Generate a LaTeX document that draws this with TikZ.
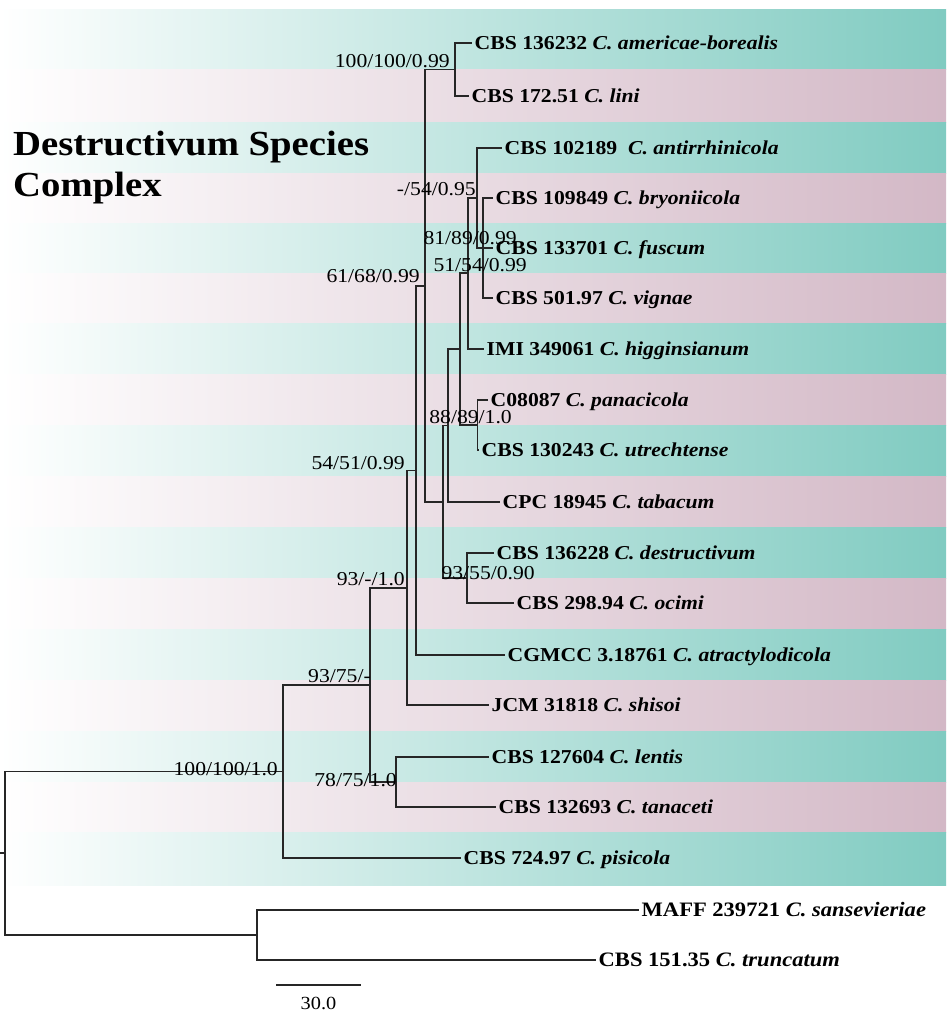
\documentclass[tikz,border=0pt]{standalone}
\usepackage{fontspec}
\setmainfont{Liberation Serif}[FakeStretch=1.1]
\usetikzlibrary{positioning}
\definecolor{bandteal}{RGB}{128,203,193}
\definecolor{bandpink}{RGB}{211,184,198}

\begin{document}
\begin{tikzpicture}[x=1pt, y=-1pt,
  br/.style={line width=1.8pt, draw=black!85},
  tx/.style={anchor=west, inner xsep=2.5pt, inner ysep=0pt, text height=13pt, text depth=0pt, font=\fontsize{19.7}{22}\selectfont\bfseries},
  og/.style={tx, font=\fontsize{20.5}{23}\selectfont\bfseries},
  bs/.style={anchor=base east, inner sep=0pt, font=\fontsize{19.7}{22}\selectfont}]
  \useasboundingbox (0,0) rectangle (946,1012);
  \foreach \a/\b/\c in {9/69.5/bandteal, 69.5/122/bandpink, 122/173/bandteal, 173/223.5/bandpink,
      223.5/273/bandteal, 273/323/bandpink, 323/374/bandteal, 374/425/bandpink, 425/476/bandteal,
      476/527.5/bandpink, 527.5/578/bandteal, 578/629/bandpink, 629/680/bandteal, 680/731/bandpink,
      731/782/bandteal, 782/832.5/bandpink, 832.5/885/bandteal}
    \shade[left color=white, middle color=\c!55!white, right color=\c] (0,\a) rectangle (946,\b);

  \node[anchor=base west, inner sep=0pt, font=\fontsize{35.2}{40}\selectfont\bfseries] (ttl) at (13,155) {Destructivum Species};
  \node[anchor=base west, inner sep=0pt, font=\fontsize{35.2}{40}\selectfont\bfseries] (ttl2) at (13,196) {Complex};

  \node[tx] (t1) at (472,43) {CBS 136232 \textit{C. americae-borealis}};
  \node[tx] (t2) at (469,96) {CBS 172.51 \textit{C. lini}};
  \node[tx] (t3) at (502,148) {CBS 102189 \ \textit{C. antirrhinicola}};
  \node[tx] (t4) at (493,198) {CBS 109849 \textit{C. bryoniicola}};
  \node[tx] (t5) at (493,248) {CBS 133701 \textit{C. fuscum}};
  \node[tx] (t6) at (493,298) {CBS 501.97 \textit{C. vignae}};
  \node[tx] (t7) at (484,349) {IMI 349061 \textit{C. higginsianum}};
  \node[tx] (t8) at (488,400) {C08087 \textit{C. panacicola}};
  \node[tx] (t9) at (479,450) {CBS 130243 \textit{C. utrechtense}};
  \node[tx] (t10) at (500,502) {CPC 18945 \textit{C. tabacum}};
  \node[tx] (t11) at (494,553) {CBS 136228 \textit{C. destructivum}};
  \node[tx] (t12) at (514,603) {CBS 298.94 \textit{C. ocimi}};
  \node[tx] (t13) at (505,655) {CGMCC 3.18761 \textit{C. atractylodicola}};
  \node[tx] (t14) at (489,705) {JCM 31818 \textit{C. shisoi}};
  \node[tx] (t15) at (489,757) {CBS 127604 \textit{C. lentis}};
  \node[tx] (t16) at (496,807) {CBS 132693 \textit{C. tanaceti}};
  \node[tx] (t17) at (461,858) {CBS 724.97 \textit{C. pisicola}};
  \node[og] (t18) at (639,910) {MAFF 239721 \textit{C. sansevieriae}};
  \node[og] (t19) at (596,960) {CBS 151.35 \textit{C. truncatum}};

  \coordinate (nG) at (455,69.5);
  \coordinate (nN) at (483,248);
  \coordinate (nM) at (477,198);
  \coordinate (nK) at (468,273);
  \coordinate (nL) at (477.5,425);
  \coordinate (nP) at (460,349);
  \coordinate (nI) at (448,425.5);
  \coordinate (nJ) at (467,578);
  \coordinate (nH) at (443,502);
  \coordinate (nF) at (425,286);
  \coordinate (nE) at (416,470.5);
  \coordinate (nC) at (407,588);
  \coordinate (nD) at (396,782);
  \coordinate (nB) at (370,685);
  \coordinate (nA) at (283,771.5);
  \coordinate (nO) at (257,935);
  \coordinate (nR) at (5,853);
  \coordinate (stub) at (0,853);

  \draw[br] (nG) |- (t1.west) (nG) |- (t2.west);
  \draw[br] (nN) |- (t4.west) (nN) -- (t5.west) (nN) |- (t6.west);
  \draw[br] (nM) |- (t3.west) (nM) |- (nN);
  \draw[br] (nK) |- (nM) (nK) |- (t7.west);
  \draw[br] (nL) |- (t8.west) (nL) |- (t9.west);
  \draw[br] (nP) |- (nK) (nP) |- (nL);
  \draw[br] (nI) |- (nP) (nI) |- (t10.west);
  \draw[br] (nJ) |- (t11.west) (nJ) |- (t12.west);
  \draw[br] (nH) |- (nI) (nH) |- (nJ);
  \draw[br] (nF) |- (nG) (nF) |- (nH);
  \draw[br] (nE) |- (nF) (nE) |- (t13.west);
  \draw[br] (nC) |- (nE) (nC) |- (t14.west);
  \draw[br] (nD) |- (t15.west) (nD) |- (t16.west);
  \draw[br] (nB) |- (nC) (nB) |- (nD);
  \draw[br] (nA) |- (nB) (nA) |- (t17.west);
  \draw[br] (nO) |- (t18.west) (nO) |- (t19.west);
  \draw[br] (nR) |- (nA) (nR) |- (nO) (stub) -- (nR);

  \node[bs] (s1) at (450,67) {100/100/0.99};
  \node[bs] (s2) at (476,195) {-/54/0.95};
  \node[bs] (s3) at (517,244) {81/89/0.99};
  \node[bs] (s4) at (527,271) {51/54/0.99};
  \node[bs] (s5) at (420,282) {61/68/0.99};
  \node[bs] (s6) at (512,423) {88/89/1.0};
  \node[bs] (s7) at (405,469) {54/51/0.99};
  \node[bs] (s8) at (535,579) {93/55/0.90};
  \node[bs] (s9) at (405,585) {93/-/1.0};
  \node[bs] (s10) at (371,682) {93/75/-};
  \node[bs] (s11) at (278,775) {100/100/1.0};
  \node[bs] (s12) at (397,786) {78/75/1.0};

  \coordinate (sb1) at (276,985);
  \coordinate (sb2) at (361,985);
  \draw[br] (sb1) -- (sb2);
  \node[anchor=base, inner sep=0pt, font=\fontsize{18.5}{20}\selectfont] (sbl) at (318.5,1009) {30.0};
\end{tikzpicture}
\end{document}
